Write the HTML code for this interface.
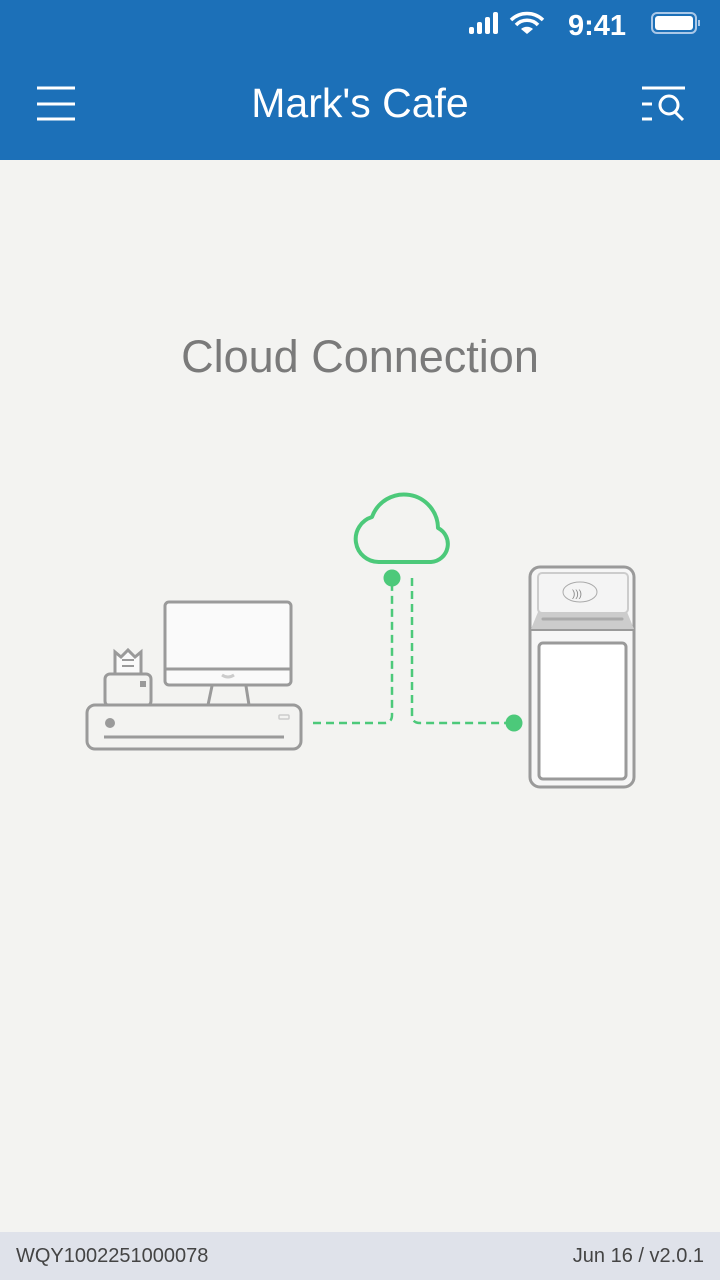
<!DOCTYPE html>
<html><head><meta charset="utf-8"><style>
html,body{margin:0;padding:0;}
body{width:720px;height:1280px;position:relative;background:#f3f3f1;font-family:"Liberation Sans",sans-serif;overflow:hidden;}
.hdr{position:absolute;left:0;top:0;width:720px;height:160px;background:#1c70b8;color:#fff;}
.time{position:absolute;left:568px;top:10px;font-size:29px;font-weight:bold;}
.title{position:absolute;left:0;width:720px;top:80px;text-align:center;font-size:41px;}
.h2{position:absolute;left:0;width:720px;top:331px;text-align:center;font-size:45px;color:#7a7a7a;}
.ftr{position:absolute;left:0;top:1232px;width:720px;height:48px;background:#dfe2ea;color:#444;font-size:20px;}
</style></head><body>
<div class="hdr">
<svg width="720" height="160" style="position:absolute;left:0;top:0">
<g fill="#fff">
<rect x="469" y="27" width="5" height="7" rx="2"/><rect x="477" y="22" width="5" height="12" rx="2"/><rect x="485" y="17" width="5" height="17" rx="2"/><rect x="493" y="12" width="5" height="22" rx="2"/>
</g>
<path d="M511 20 A23 23 0 0 1 543 20" stroke="#fff" stroke-width="3.5" fill="none"/>
<path d="M516 25 A15 15 0 0 1 538 25" stroke="#fff" stroke-width="3.5" fill="none"/>
<path d="M521 29 L527 34 L533 29 A9 9 0 0 0 521 29Z" fill="#fff"/>
<rect x="652" y="13" width="44" height="20" rx="5" fill="none" stroke="#aac8e8" stroke-width="2"/>
<rect x="655" y="16" width="38" height="14" rx="3" fill="#fff"/>
<rect x="698" y="20" width="2" height="6" fill="#aac8e8"/>
<g stroke="#fff" stroke-width="3">
<line x1="37" y1="88" x2="75" y2="88"/><line x1="37" y1="104" x2="75" y2="104"/><line x1="37" y1="119" x2="75" y2="119"/>
<line x1="642" y1="88" x2="685" y2="88"/><line x1="642" y1="104" x2="652" y2="104"/><line x1="642" y1="119" x2="652" y2="119"/>
<circle cx="669" cy="105" r="9" fill="none"/><line x1="675" y1="112" x2="683" y2="120"/>
</g>
</svg>
<div class="time">9:41</div>
<div class="title">Mark's Cafe</div>
</div>
<div class="h2">Cloud Connection</div>
<svg width="720" height="1280" style="position:absolute;left:0;top:0">
<g fill="none" stroke="#9a9a9a" stroke-width="3">
<rect x="165" y="602" width="126" height="83" rx="4" fill="#fafafa"/>
<line x1="166" y1="669" x2="290" y2="669"/>
<path d="M212 686 L208 705 M246 686 L249 705"/>
<path d="M115 674 V652 L121 657 L128 650 L135 657 L141 652 V674" fill="#fafafa"/>
<line x1="122" y1="660" x2="134" y2="660" stroke-width="2"/><line x1="122" y1="666" x2="134" y2="666" stroke-width="2"/>
<rect x="105" y="674" width="46" height="32" rx="5" fill="#f3f3f1"/>
<rect x="87" y="705" width="214" height="44" rx="8" fill="#f3f3f1"/>
<line x1="104" y1="737" x2="284" y2="737"/>
</g>
<path d="M222 675 Q228 679 234 675" stroke="#ccc" stroke-width="3" fill="none"/>
<rect x="140" y="681" width="6" height="6" fill="#9a9a9a"/>
<circle cx="110" cy="723" r="5" fill="#9a9a9a"/>
<rect x="279" y="715" width="10" height="4" rx="1" fill="none" stroke="#ccc" stroke-width="1.5"/>
<g fill="none" stroke="#4cc97a" stroke-width="2.5" stroke-dasharray="8 5">
<path d="M313 723 H384 Q392 723 392 715 V580"/>
<path d="M412 578 V715 Q412 723 420 723 H514"/>
</g>
<circle cx="392" cy="578" r="8.5" fill="#4cc97a"/>
<circle cx="514" cy="723" r="8.5" fill="#4cc97a"/>
<path d="M379 562 A23 23 0 0 1 372 517 A34 34 0 0 1 438 528 A18 18 0 0 1 431 562 Z" fill="none" stroke="#4cc97a" stroke-width="4" stroke-linejoin="round"/>
<g fill="none" stroke="#9a9a9a" stroke-width="3">
<rect x="530" y="567" width="104" height="220" rx="10" fill="#f6f6f6"/>
</g>
<rect x="538" y="573" width="90" height="40" rx="4" fill="#f4f4f4" stroke="#ccc" stroke-width="2"/>
<path d="M531 629 L538 612 H627 L634 629 Z" fill="#cccccc"/>
<line x1="543" y1="619" x2="622" y2="619" stroke="#aaa" stroke-width="3" stroke-linecap="round"/>
<line x1="531" y1="630" x2="634" y2="630" stroke="#9a9a9a" stroke-width="2"/>
<rect x="539" y="643" width="87" height="136" rx="4" fill="#fff" stroke="#9a9a9a" stroke-width="3"/>
<ellipse cx="580" cy="592" rx="17" ry="10" fill="none" stroke="#aaa" stroke-width="1"/>
<text x="572" y="597" font-size="10" fill="#888" font-family="Liberation Sans">)))</text>
</svg>
<div class="ftr"><span style="position:absolute;left:16px;top:13px">WQY1002251000078</span><span style="position:absolute;right:16px;top:13px">Jun 16 / v2.0.1</span></div>
</body></html>
